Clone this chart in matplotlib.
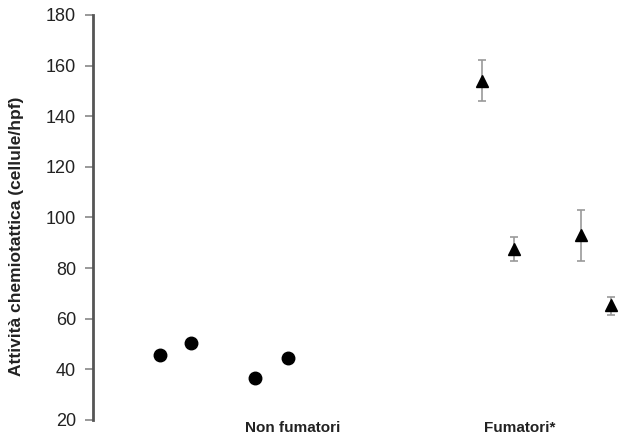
import matplotlib
matplotlib.use("Agg")
import matplotlib.pyplot as plt

plt.rcParams['font.family'] = ['Liberation Sans', 'DejaVu Sans']

# Data
group_labels = ["Non fumatori", "Fumatori*"]
group_label_x = [3.72, 7.93]

nonsmoker_x = [1.24, 1.83, 3.02, 3.63]
nonsmoker_y = [45.7, 50.4, 36.6, 44.5]

smoker_x = [7.22, 7.83, 9.06, 9.63]
smoker_y = [154.0, 87.5, 93.2, 65.3]
smoker_err_low = [7.9, 4.8, 10.5, 3.7]
smoker_err_high = [8.3, 4.7, 9.9, 3.2]

yticks = [20, 40, 60, 80, 100, 120, 140, 160, 180]

fig = plt.figure(figsize=(6.32, 4.38), dpi=100)
ax = fig.add_axes([0.147, 1 - 420 / 438, 0.85, 405 / 438])

ax.errorbar(smoker_x, smoker_y, yerr=[smoker_err_low, smoker_err_high],
            fmt='none', ecolor='#999999', elinewidth=1.2, capsize=3, capthick=1.2,
            zorder=2)
ax.plot(smoker_x, smoker_y, linestyle='none', marker='^', markersize=8,
        color='black', zorder=3)
ax.plot(nonsmoker_x, nonsmoker_y, linestyle='none', marker='o', markersize=9,
        color='black', zorder=3)

ax.set_ylim(20, 180)
ax.set_xlim(0, 9.98)
ax.set_yticks(yticks)
ax.set_yticklabels([str(t) for t in yticks], fontsize=13, color='#222222')
ax.set_xticks(group_label_x)
ax.set_xticklabels(group_labels, fontsize=11, fontweight='bold', color='#222222')
ax.tick_params(axis='x', length=0, pad=0.5)
ax.tick_params(axis='y', length=6, width=1.2, color='#888888', pad=6)

for s in ['top', 'right', 'bottom']:
    ax.spines[s].set_visible(False)
ax.spines['left'].set_color('#555555')
ax.spines['left'].set_linewidth(2)

ax.set_ylabel("Attività chemiotattica (cellule/hpf)", fontsize=12.5,
              fontweight='bold', color='#222222')
ax.yaxis.set_label_coords(-0.1285, 0.454)

fig.savefig("out.png", dpi=100)
